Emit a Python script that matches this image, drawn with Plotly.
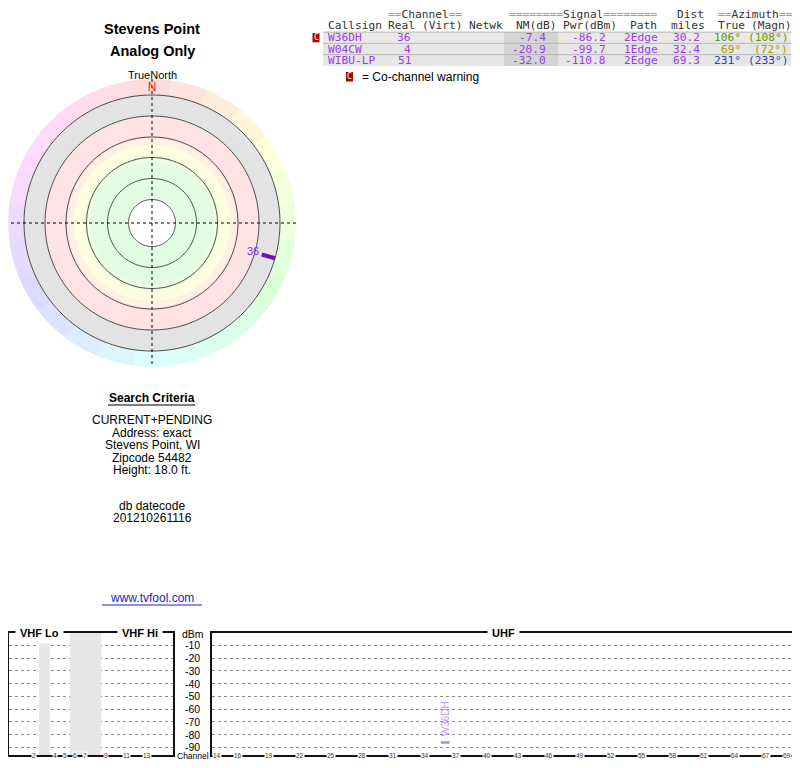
import plotly.graph_objects as go

# the page body has an 8px margin, so the figure is 792x760 placed at (8, 8)
OFF = 8
W, H = 800 - OFF, 768 - OFF
def px(x): return min(1.0, max(0.0, (x - OFF) / W))
def py(y): return min(1.0, max(0.0, 1 - (y - OFF) / H))

# ---------------- data ----------------
callsigns = ["W36DH", "W04CW", "WIBU-LP"]
real_ch = [36, 4, 51]
nm_db = [-7.4, -20.9, -32.0]
pwr_dbm = [-86.2, -99.7, -110.8]
path = ["2Edge", "1Edge", "2Edge"]
dist_mi = [30.2, 32.4, 69.3]
az_true = [106, 69, 231]
az_magn = [108, 72, 233]
co_channel = [True, False, False]
az_colors = ["#5c9c00", "#b09800", "#2b3fb5"]

vhf_slots = ["2", "3", "4", "g1", "5", "6", "g2", "g3", "g4", "7", "8", "9", "10", "11", "12", "13"]
vhf_gap_slots = ["g1", "g2", "g3", "g4"]
vhf_tick_labels = ["2", "4", "5", "6", "7", "9", "11", "13"]
uhf_tick_labels = [14, 16, 19, 22, 25, 28, 31, 34, 37, 40, 43, 46, 49, 52, 55, 58, 61, 64, 67, 69]
dbm_ticks = [-10, -20, -30, -40, -50, -60, -70, -80, -90]
dbm_floor = -96

ring_levels = [23.5, 44.5, 65.5, 86, 107, 128]   # polar rings (plot radius units)
zone_bands = [  # (inner, outer, colour)
    (23.5, 62, "#e2fde2"),
    (62, 68, "#effde0"),
    (68, 78, "#fefee2"),
    (78, 84, "#fff0e2"),
    (84, 107, "#ffe3e3"),
    (107, 128, "#e3e3e3"),
]
compass_sectors = list(range(0, 360, 15))
polar_edge = 144

PURPLE = "#9a3ce6"
SANS = "Liberation Sans, Arial, sans-serif"
MONO = "DejaVu Sans Mono, monospace"

fig = go.Figure()

# ---------------- polar ----------------
for inner, outer, col in zone_bands:
    fig.add_trace(go.Barpolar(r=[outer - inner], base=[inner], theta=[0], width=[360],
                              marker=dict(color=col, line=dict(width=0)), subplot="polar",
                              hoverinfo="skip", showlegend=False))
fig.add_trace(go.Barpolar(r=[polar_edge - 128] * len(compass_sectors), base=[128] * len(compass_sectors),
                          theta=compass_sectors, width=[15.3] * len(compass_sectors),
                          marker=dict(color=[f"hsl({h},100%,93%)" for h in compass_sectors], line=dict(width=0)),
                          subplot="polar", hoverinfo="skip", showlegend=False))
circle_theta = list(range(0, 361, 2))
for rr in ring_levels:
    fig.add_trace(go.Scatterpolar(r=[rr] * len(circle_theta), theta=circle_theta, mode="lines",
                                  line=dict(color="#4a4a4a", width=1), subplot="polar",
                                  hoverinfo="skip", showlegend=False))
for a in (0, 90):
    fig.add_trace(go.Scatterpolar(r=[polar_edge, 0, polar_edge], theta=[a, a, a + 180], mode="lines",
                                  line=dict(color="#000", width=1, dash="dot"), subplot="polar",
                                  hoverinfo="skip", showlegend=False))
# station rays (only stations strong enough to reach the plot)
for cs, ch, nm, az in zip(callsigns, real_ch, nm_db, az_true):
    length = (nm + 14.0) * 2.1
    if length <= 0:
        continue
    fig.add_trace(go.Scatterpolar(r=[128 - length, 128], theta=[az, az], mode="lines",
                                  line=dict(color="#6a10c0", width=4), subplot="polar",
                                  hoverinfo="skip", showlegend=False))
    fig.add_trace(go.Scatterpolar(r=[128 - length - 9], theta=[az], mode="text", text=[str(ch)],
                                  textfont=dict(color="#8a2be2", size=11, family=SANS), subplot="polar",
                                  hoverinfo="skip", showlegend=False))
fig.add_trace(go.Scatterpolar(r=[135], theta=[0], mode="text", text=["N"],
                              textfont=dict(color="#ff2020", size=12, family=SANS), subplot="polar",
                              hoverinfo="skip", showlegend=False))

# ---------------- spectrum panels ----------------
fig.add_trace(go.Bar(x=vhf_gap_slots, y=[-dbm_floor] * len(vhf_gap_slots), base=dbm_floor, width=1.06,
                     marker=dict(color="#e6e6e6", line=dict(width=0)), xaxis="x", yaxis="y",
                     hoverinfo="skip", showlegend=False))
vhf_x, vhf_y, uhf_x, uhf_y = [], [], [], []
for ch, p in zip(real_ch, pwr_dbm):
    if ch <= 13:
        vhf_x.append(str(ch)); vhf_y.append(p)
    else:
        uhf_x.append(ch); uhf_y.append(p)
fig.add_trace(go.Bar(x=vhf_x, y=[2] * len(vhf_x), base=[v - 1 for v in vhf_y], width=0.85,
                     marker=dict(color="#b58ce0", line=dict(width=0)), xaxis="x", yaxis="y",
                     hoverinfo="skip", showlegend=False))
fig.add_trace(go.Bar(x=uhf_x, y=[2] * len(uhf_x), base=[v - 1 for v in uhf_y], width=0.85,
                     marker=dict(color="#b58ce0", line=dict(width=0)), xaxis="x2", yaxis="y2",
                     hoverinfo="skip", showlegend=False))

ydom = [py(755), py(632.5)]
ax_common = dict(showline=True, mirror=True, linecolor="#111", linewidth=2, ticks="",
                 showticklabels=False, zeroline=False, fixedrange=True)
y_common = dict(ax_common, range=[dbm_floor, 0], tickvals=dbm_ticks, showgrid=True,
                gridcolor="#8a8a8a", griddash="dot", gridwidth=1, domain=ydom)

annotations = []
shapes = []

def ann(x, y, text, size=12, color="#000", family=SANS, xanchor="center", yanchor="middle", **kw):
    d = dict(x=x, y=y, text=text, showarrow=False, xanchor=xanchor, yanchor=yanchor,
             font=dict(size=size, color=color, family=family))
    d.setdefault("xref", "paper"); d.setdefault("yref", "paper")
    d.update(kw)
    annotations.append(d)

# frame titles
for label, xc in (("VHF Lo", 39), ("VHF Hi", 140), ("UHF", 503)):
    ann(px(xc), py(633), f"<b>{label}</b>", size=11, bgcolor="white", borderpad=4)
# dBm labels
ann(px(192.5), py(634), "dBm", size=10.5)
for t in dbm_ticks:
    ann(px(192.5), t, str(t), size=10.5, yref="y")
ann(px(192.5), py(755.5), "Channel", size=8.5)
# channel tick labels on baselines
for t in vhf_tick_labels:
    ann(t, dbm_floor, t, size=6.5, color="#333", xref="x", yref="y", bgcolor="white", borderpad=0)
for t in uhf_tick_labels:
    ann(t, dbm_floor, str(t), size=6.5, color="#333", xref="x2", yref="y2", bgcolor="white", borderpad=0)
# station labels above bars (vertical text, centred ~18 dB above the marker)
for cs, ch, p in zip(callsigns, real_ch, pwr_dbm):
    if p < dbm_floor:
        continue
    xr, yr = ("x", "y") if ch <= 13 else ("x2", "y2")
    ann(ch if ch > 13 else str(ch), p + 18.4, cs, size=10, color="#c39be6", xref=xr, yref=yr,
        textangle=-90, yanchor="middle")

# ---------------- left texts ----------------
ann(px(152), py(29), "<b>Stevens Point</b>", size=14.5)
ann(px(152), py(51), "<b>Analog Only</b>", size=14.5)
ann(px(152), py(75), "TrueNorth", size=11)
ann(px(152), py(398), "<b>Search Criteria</b>", size=12)
shapes.append(dict(type="line", xref="paper", yref="paper", x0=px(108), x1=px(195), y0=py(405), y1=py(405),
                   line=dict(color="#000", width=1)))
crit_lines = ["CURRENT+PENDING", "Address: exact", "Stevens Point, WI", "Zipcode 54482", "Height: 18.0 ft."]
for i, s in enumerate(crit_lines):
    ann(px(152), py(420 + i * 12.5), s, size=12)
ann(px(152), py(506), "db datecode", size=12)
ann(px(152), py(518.5), "201210261116", size=12)
ann(px(152), py(598), "www.tvfool.com", size=12, color="#2222cc")
shapes.append(dict(type="line", xref="paper", yref="paper", x0=px(102), x1=px(202), y0=py(605), y1=py(605),
                   line=dict(color="#2222cc", width=1)))

# ---------------- table ----------------
X0, CW = 326, 6.72
def xl(col): return px(X0 + col * CW)
def xr(end): return px(X0 + (end + 1) * CW)
def eq(s):
    return s.replace("==", "<span style='color:#9a9a9a'>==</span>")

row_y = [37.7, 49.0, 60.3]
for i, yy in enumerate(row_y):
    shapes.append(dict(type="rect", xref="paper", yref="paper", x0=px(323), x1=px(791),
                       y0=py(yy - 5.6), y1=py(yy + 5.6), fillcolor="#ebe8e8" if i == 0 else "#e6e6e6",
                       line=dict(width=0), layer="below"))
shapes.append(dict(type="rect", xref="paper", yref="paper", x0=px(504), x1=px(558),
                   y0=py(row_y[0] - 5.6), y1=py(row_y[-1] + 5.6), fillcolor="#d4d4d4",
                   line=dict(width=0), layer="below"))
for yy in [row_y[0] - 5.6, row_y[0] + 5.65, row_y[1] + 5.65]:
    shapes.append(dict(type="line", xref="paper", yref="paper", x0=px(323), x1=px(791),
                       y0=py(yy), y1=py(yy), line=dict(color="#b5b5b5", width=1)))

hdr_col = "#333"
for text, col in (("==Channel==", 9), ("========Signal========", 27), ("Dist", 52), ("==Azimuth==", 58)):
    ann(xl(col), py(14.3), eq(text) if "=" in text else text, size=11.2, family=MONO, color=hdr_col, xanchor="left")
for text, col in (("Callsign", 0), ("Real", 9), ("(Virt)", 14), ("Netwk", 21), ("NM(dB)", 28),
                  ("Pwr(dBm)", 35), ("Path", 45), ("miles", 51), ("True", 58), ("(Magn)", 63)):
    ann(xl(col), py(25.3), text, size=11.2, family=MONO, color=hdr_col, xanchor="left")

for i, yy in enumerate(row_y):
    y = py(yy)
    ann(xl(0), y, callsigns[i], size=11.2, family=MONO, color=PURPLE, xanchor="left")
    ann(xr(12), y, str(real_ch[i]), size=11.2, family=MONO, color=PURPLE, xanchor="right")
    ann(xr(32), y, f"{nm_db[i]:.1f}", size=11.2, family=MONO, color=PURPLE, xanchor="right")
    ann(xr(41), y, f"{pwr_dbm[i]:.1f}", size=11.2, family=MONO, color=PURPLE, xanchor="right")
    ann(xl(44), y, path[i], size=11.2, family=MONO, color=PURPLE, xanchor="left")
    ann(xr(55), y, f"{dist_mi[i]:.1f}", size=11.2, family=MONO, color=PURPLE, xanchor="right")
    ann(xr(61), y, f"{az_true[i]}°", size=11.2, family=MONO, color=az_colors[i], xanchor="right")
    ann(xr(68), y, f"({az_magn[i]}°)", size=11.2, family=MONO, color=az_colors[i], xanchor="right")
    if co_channel[i]:
        shapes.append(dict(type="rect", xref="paper", yref="paper", x0=px(312.5), x1=px(319.5),
                           y0=py(yy - 4.6), y1=py(yy + 4.6), fillcolor="#b00000", line=dict(width=0)))
        ann(px(316), y, "C", size=8, color="white", family=MONO)

shapes.append(dict(type="rect", xref="paper", yref="paper", x0=px(346), x1=px(353),
                   y0=py(72), y1=py(81.5), fillcolor="#b00000", line=dict(width=0)))
ann(px(349.5), py(76.8), "C", size=8, color="white", family=MONO)
ann(px(360), py(77), "= Co-channel warning", size=12, xanchor="left")

fig.update_layout(
    width=W, height=H, margin=dict(l=0, r=0, t=0, b=0),
    paper_bgcolor="white", plot_bgcolor="white", showlegend=False, barmode="overlay",
    polar=dict(domain=dict(x=[px(8), px(296)], y=[py(367), py(79)]), bgcolor="rgba(0,0,0,0)",
               radialaxis=dict(range=[0, polar_edge], visible=False),
               angularaxis=dict(rotation=90, direction="clockwise", visible=False)),
    xaxis=dict(ax_common, domain=[px(8.5), px(172.7)], type="category", categoryorder="array",
               categoryarray=vhf_slots, range=[-0.5, 15.5]),
    yaxis=dict(y_common),
    xaxis2=dict(ax_common, domain=[px(212.3), px(792)], range=[13.5, 69.5], anchor="y2"),
    yaxis2=dict(y_common, anchor="x2"),
    annotations=annotations, shapes=shapes,
)
fig.write_html("out.html")
